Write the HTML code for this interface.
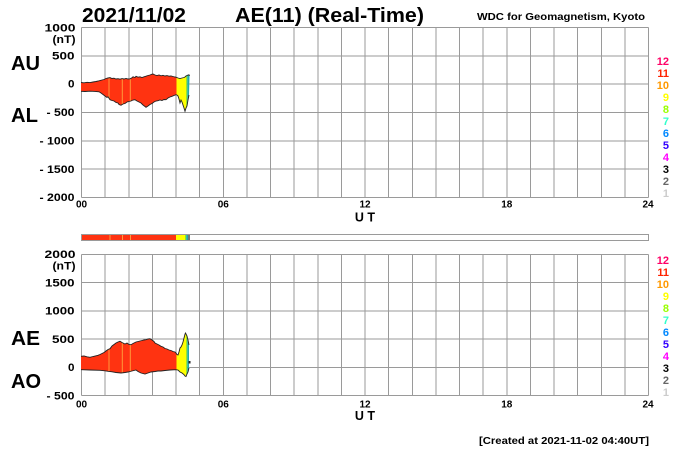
<!DOCTYPE html>
<html><head><meta charset="utf-8"><style>
html,body{margin:0;padding:0;background:#fff;}
svg{display:block;}
text{font-family:"Liberation Sans",Arial,sans-serif;font-weight:bold;}
</style></head><body>
<svg width="700" height="450" viewBox="0 0 700 450" xmlns="http://www.w3.org/2000/svg">
<defs>
<clipPath id="ctop"><polygon points="81,82.5 84,82.8 87,82.3 90,82.6 93,82 96,81.5 99,80.8 102,80 104,79.5 106,78.5 108,78 110,77.6 112,78.5 114,78.2 116,79 118,78.7 120,79.2 122,78.6 124,79 126,78.5 128,79 130,78.8 132,77.8 133,76.8 135,77.5 136,76.3 138,77.2 140,76.8 142,77.5 144,76.8 146,76.2 148,75.5 150,75 152,74.2 153,74 155,75 157,75.5 159,75 161,75.8 163,75.3 165,76 167,75.6 169,76.2 171,76 173,76.5 175,77 176,77.2 178,78 180,78.5 182,78 184,77.5 185,77 186,76 187,75.5 188,75 189,74.8 189.5,76 189,95 188,100 187,106 186,108 185,111.3 184,108 183,105 182,102 181,100 180,103 179,99 178,96 177,95 176,94.7 174,95.5 172,96.3 170,97 168,98 166,99.7 164,99.5 162,100.5 160,100 158,100.7 156,101 154,102 152,103.5 150,104.5 148,106 146,107.3 145,106.5 143,105 141,103 139,102 137,101 135,99.7 133,100 131,101 129,101.5 127,102 125,103.5 123,104 121,105.3 119,104.5 118,103 116,102.5 114,101 112,100.5 110,99.7 108,96.8 107,97.5 105,96 103,94.5 101,93 99,91.8 95,91.4 90,91.2 85,91.5 81,91.3"/></clipPath>
<clipPath id="cbot"><polygon points="81,356.3 84,356 87,356.8 90,357.3 93,356.5 96,355.8 98,355.3 100,354.5 102,353.5 104,352.5 106,351 108,349.5 110,348.7 112,346 114,344.5 116,343 118,342 120,341.3 122,342.5 124,343.5 125,344 127,343 129,344.5 131,344.7 133,343.5 135,342.5 136,342 138,341.5 140,341 142,340.5 144,340 146,339.7 148,339 150,338.7 152,340 154,341.5 155,343 157,344 159,345 161,346.3 163,347 165,348.5 167,349 169,350 171,350.5 173,351.5 175,352 176,353 177,354.5 178,355 179,352 180,348 181,347 182,345 183,342 184,338 185,334 185.5,333 186,334 187,336 188,340 189,345 189,368 188,372 187,374 186,376.5 185,376 184,374.7 182,373 180,372 178,370 176,369.7 170,370 165,370.5 161,371 158,371 155,371.5 151,372 148,373 145,374 141,373 138,371.5 136,370 132,371 128,372 125,372.5 121,373 116,372.5 112,371.8 108,371.3 105,370.8 100,370.3 90,370 81,369.7"/></clipPath>
</defs>

<!-- Titles -->
<text x="82" y="22" font-size="20" textLength="104" lengthAdjust="spacingAndGlyphs">2021/11/02</text>
<text x="235" y="22" font-size="20" textLength="189" lengthAdjust="spacingAndGlyphs">AE(11) (Real-Time)</text>
<text x="477" y="20" font-size="10.5" textLength="168" lengthAdjust="spacingAndGlyphs">WDC for Geomagnetism, Kyoto</text>

<!-- Side labels -->
<text x="11" y="70" font-size="20" textLength="29" lengthAdjust="spacingAndGlyphs">AU</text>
<text x="11" y="122" font-size="20" textLength="27" lengthAdjust="spacingAndGlyphs">AL</text>
<text x="11" y="345" font-size="20" textLength="29" lengthAdjust="spacingAndGlyphs">AE</text>
<text x="11" y="388" font-size="20" textLength="30" lengthAdjust="spacingAndGlyphs">AO</text>

<!-- Top chart grid -->
<g stroke="#9a9a9a" stroke-width="1" shape-rendering="crispEdges" fill="none">
<path d="M81.5 27.5H648.5M81.5 55.83H648.5M81.5 84.17H648.5M81.5 112.5H648.5M81.5 140.83H648.5M81.5 169.17H648.5M81.5 197.5H648.5"/>
<path d="M81.5 27.5V197.5M105.125 27.5V197.5M128.75 27.5V197.5M152.375 27.5V197.5M176 27.5V197.5M199.625 27.5V197.5M223.25 27.5V197.5M246.875 27.5V197.5M270.5 27.5V197.5M294.125 27.5V197.5M317.75 27.5V197.5M341.375 27.5V197.5M365 27.5V197.5M388.625 27.5V197.5M412.25 27.5V197.5M435.875 27.5V197.5M459.5 27.5V197.5M483.125 27.5V197.5M506.75 27.5V197.5M530.375 27.5V197.5M554 27.5V197.5M577.625 27.5V197.5M601.25 27.5V197.5M624.875 27.5V197.5M648.5 27.5V197.5"/>
</g>

<!-- Bottom chart grid -->
<g stroke="#9a9a9a" stroke-width="1" shape-rendering="crispEdges" fill="none">
<path d="M81.5 254.5H648.5M81.5 282.7H648.5M81.5 310.9H648.5M81.5 339.1H648.5M81.5 367.3H648.5M81.5 395.5H648.5"/>
<path d="M81.5 254.5V395.5M105.125 254.5V395.5M128.75 254.5V395.5M152.375 254.5V395.5M176 254.5V395.5M199.625 254.5V395.5M223.25 254.5V395.5M246.875 254.5V395.5M270.5 254.5V395.5M294.125 254.5V395.5M317.75 254.5V395.5M341.375 254.5V395.5M365 254.5V395.5M388.625 254.5V395.5M412.25 254.5V395.5M435.875 254.5V395.5M459.5 254.5V395.5M483.125 254.5V395.5M506.75 254.5V395.5M530.375 254.5V395.5M554 254.5V395.5M577.625 254.5V395.5M601.25 254.5V395.5M624.875 254.5V395.5M648.5 254.5V395.5"/>
</g>

<!-- Top data fill -->
<g clip-path="url(#ctop)">
<rect x="80" y="60" width="96.5" height="60" fill="#ff3311"/>
<rect x="176.5" y="60" width="10" height="60" fill="#ffff00"/>
<rect x="186.3" y="60" width="1" height="60" fill="#66dd44"/>
<rect x="187.3" y="60" width="2.5" height="60" fill="#22aaaa"/>
<g stroke="#ff9a3a" stroke-width="1"><path d="M109 60V120M122.3 60V120M130.3 60V120"/></g>
</g>
<polyline fill="none" stroke="#222" stroke-width="0.9" points="81,82.5 84,82.8 87,82.3 90,82.6 93,82 96,81.5 99,80.8 102,80 104,79.5 106,78.5 108,78 110,77.6 112,78.5 114,78.2 116,79 118,78.7 120,79.2 122,78.6 124,79 126,78.5 128,79 130,78.8 132,77.8 133,76.8 135,77.5 136,76.3 138,77.2 140,76.8 142,77.5 144,76.8 146,76.2 148,75.5 150,75 152,74.2 153,74 155,75 157,75.5 159,75 161,75.8 163,75.3 165,76 167,75.6 169,76.2 171,76 173,76.5 175,77 176,77.2 178,78 180,78.5 182,78 184,77.5 185,77 186,76 187,75.5 188,75 189,74.8 189.5,76"/>
<polyline fill="none" stroke="#222" stroke-width="0.9" points="189,95 188,100 187,106 186,108 185,111.3 184,108 183,105 182,102 181,100 180,103 179,99 178,96 177,95 176,94.7 174,95.5 172,96.3 170,97 168,98 166,99.7 164,99.5 162,100.5 160,100 158,100.7 156,101 154,102 152,103.5 150,104.5 148,106 146,107.3 145,106.5 143,105 141,103 139,102 137,101 135,99.7 133,100 131,101 129,101.5 127,102 125,103.5 123,104 121,105.3 119,104.5 118,103 116,102.5 114,101 112,100.5 110,99.7 108,96.8 107,97.5 105,96 103,94.5 101,93 99,91.8 95,91.4 90,91.2 85,91.5 81,91.3"/>

<!-- Bottom data fill -->
<g clip-path="url(#cbot)">
<rect x="80" y="325" width="96.5" height="60" fill="#ff3311"/>
<rect x="176.5" y="325" width="10" height="60" fill="#ffff00"/>
<rect x="186.3" y="325" width="1" height="60" fill="#66dd44"/>
<rect x="187.3" y="325" width="2.5" height="60" fill="#22aaaa"/>
<g stroke="#ff9a3a" stroke-width="1"><path d="M109 325V385M122.3 325V385M130.3 325V385"/></g>
</g>
<polyline fill="none" stroke="#222" stroke-width="0.9" points="81,356.3 84,356 87,356.8 90,357.3 93,356.5 96,355.8 98,355.3 100,354.5 102,353.5 104,352.5 106,351 108,349.5 110,348.7 112,346 114,344.5 116,343 118,342 120,341.3 122,342.5 124,343.5 125,344 127,343 129,344.5 131,344.7 133,343.5 135,342.5 136,342 138,341.5 140,341 142,340.5 144,340 146,339.7 148,339 150,338.7 152,340 154,341.5 155,343 157,344 159,345 161,346.3 163,347 165,348.5 167,349 169,350 171,350.5 173,351.5 175,352 176,353 177,354.5 178,355 179,352 180,348 181,347 182,345 183,342 184,338 185,334 185.5,333 186,334 187,336 188,340 189,345"/>
<polyline fill="none" stroke="#222" stroke-width="0.9" points="189,368 188,372 187,374 186,376.5 185,376 184,374.7 182,373 180,372 178,370 176,369.7 170,370 165,370.5 161,371 158,371 155,371.5 151,372 148,373 145,374 141,373 138,371.5 136,370 132,371 128,372 125,372.5 121,373 116,372.5 112,371.8 108,371.3 105,370.8 100,370.3 90,370 81,369.7"/>
<rect x="188.5" y="361" width="2" height="2.5" fill="#222"/>

<!-- Colour bar -->
<rect x="81.5" y="234.5" width="567" height="6" fill="#fff" stroke="#9a9a9a" stroke-width="1" shape-rendering="crispEdges"/>
<rect x="82" y="235" width="94" height="5" fill="#ff3311"/>
<g stroke="#ff9a3a" stroke-width="1"><path d="M110 235V240M122.5 235V240M130.5 235V240"/></g>
<rect x="176" y="235" width="9" height="5" fill="#ffff00"/>
<rect x="185" y="235" width="1.2" height="5" fill="#88ee22"/>
<rect x="186.2" y="235" width="1.8" height="5" fill="#22aaaa"/>
<rect x="188" y="235" width="2" height="5" fill="#777"/>

<!-- Top y tick labels -->
<g font-size="11" text-anchor="end">
<text x="75.5" y="31.5" textLength="31" lengthAdjust="spacingAndGlyphs">1000</text>
<text x="75.5" y="43" textLength="23" lengthAdjust="spacingAndGlyphs">(nT)</text>
<text x="74.5" y="59.5" textLength="22.5" lengthAdjust="spacingAndGlyphs">500</text>
<text x="74.5" y="87.5" textLength="6.5" lengthAdjust="spacingAndGlyphs">0</text>
<text x="74.5" y="116" textLength="28" lengthAdjust="spacingAndGlyphs">- 500</text>
<text x="74.5" y="144.5" textLength="35" lengthAdjust="spacingAndGlyphs">- 1000</text>
<text x="74.5" y="173" textLength="35" lengthAdjust="spacingAndGlyphs">- 1500</text>
<text x="74.5" y="201" textLength="35" lengthAdjust="spacingAndGlyphs">- 2000</text>
</g>

<!-- Bottom y tick labels -->
<g font-size="11" text-anchor="end">
<text x="75.5" y="258" textLength="31" lengthAdjust="spacingAndGlyphs">2000</text>
<text x="75.5" y="269.5" textLength="23" lengthAdjust="spacingAndGlyphs">(nT)</text>
<text x="74.5" y="286.5" textLength="29.5" lengthAdjust="spacingAndGlyphs">1500</text>
<text x="74.5" y="314.7" textLength="29.5" lengthAdjust="spacingAndGlyphs">1000</text>
<text x="74.5" y="343" textLength="22.5" lengthAdjust="spacingAndGlyphs">500</text>
<text x="74.5" y="371.2" textLength="6.5" lengthAdjust="spacingAndGlyphs">0</text>
<text x="74.5" y="399.3" textLength="28" lengthAdjust="spacingAndGlyphs">- 500</text>
</g>

<!-- X labels -->
<g font-size="10" text-anchor="middle">
<text x="81.5" y="207.5">00</text>
<text x="223.25" y="207.5">06</text>
<text x="365" y="207.5">12</text>
<text x="506.75" y="207.5">18</text>
<text x="648" y="207.5">24</text>
<text x="81.5" y="407.3">00</text>
<text x="223.25" y="407.3">06</text>
<text x="365" y="407.3">12</text>
<text x="506.75" y="407.3">18</text>
<text x="648" y="407.3">24</text>
</g>
<text x="365" y="221.7" font-size="12.5" text-anchor="middle">U T</text>
<text x="365" y="420" font-size="12.5" text-anchor="middle">U T</text>

<!-- Legend top -->
<g font-size="11" text-anchor="end">
<text x="669" y="65" fill="#ff0066">12</text>
<text x="669" y="77" fill="#ff2200">11</text>
<text x="669" y="89" fill="#ff9900">10</text>
<text x="669" y="101" fill="#ffff00">9</text>
<text x="669" y="113" fill="#99ff00">8</text>
<text x="669" y="125" fill="#33ffcc">7</text>
<text x="669" y="137" fill="#0088ff">6</text>
<text x="669" y="149" fill="#3300ff">5</text>
<text x="669" y="161" fill="#ff00ff">4</text>
<text x="669" y="173" fill="#000000">3</text>
<text x="669" y="185" fill="#666666">2</text>
<text x="669" y="197" fill="#cccccc">1</text>
</g>
<!-- Legend bottom -->
<g font-size="11" text-anchor="end">
<text x="669" y="264" fill="#ff0066">12</text>
<text x="669" y="276" fill="#ff2200">11</text>
<text x="669" y="288" fill="#ff9900">10</text>
<text x="669" y="300" fill="#ffff00">9</text>
<text x="669" y="312" fill="#99ff00">8</text>
<text x="669" y="324" fill="#33ffcc">7</text>
<text x="669" y="336" fill="#0088ff">6</text>
<text x="669" y="348" fill="#3300ff">5</text>
<text x="669" y="360" fill="#ff00ff">4</text>
<text x="669" y="372" fill="#000000">3</text>
<text x="669" y="384" fill="#666666">2</text>
<text x="669" y="396" fill="#cccccc">1</text>
</g>

<text x="479" y="444" font-size="10.5" textLength="170" lengthAdjust="spacingAndGlyphs">[Created at 2021-11-02 04:40UT]</text>
</svg>
</body></html>
